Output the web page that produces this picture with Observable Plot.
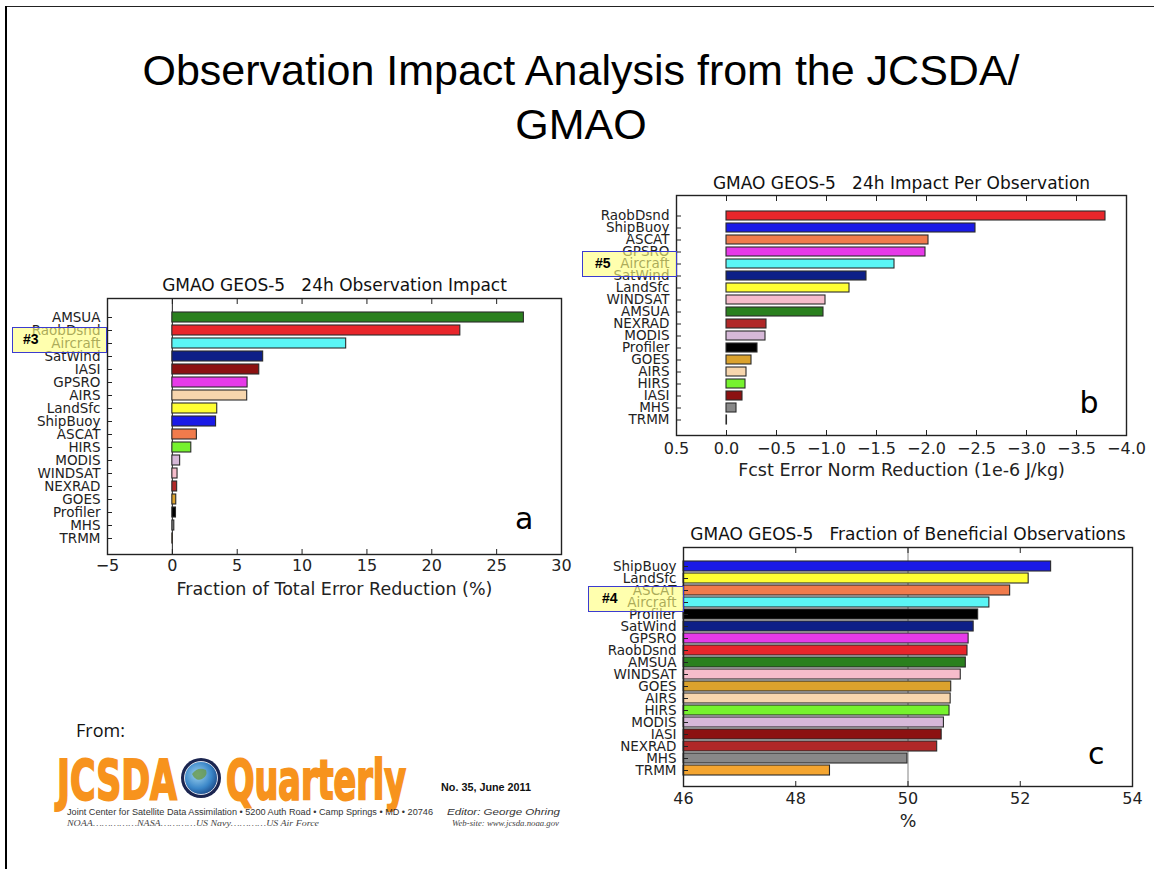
<!DOCTYPE html>
<html>
<head>
<meta charset="utf-8">
<script src="https://cdn.jsdelivr.net/npm/d3@7"></script>
<script src="https://cdn.jsdelivr.net/npm/@observablehq/plot@0.6"></script>
<style>
  body { margin: 0; background: #fff; }
  #slide { position: relative; width: 1154px; height: 869px; overflow: hidden; background: #fff; }
  .pane { position: absolute; }
  .pane svg { overflow: visible; }
  .hl { position: absolute; box-sizing: border-box; background: rgba(255,255,125,0.62);
        border: 1.5px solid #3b3bd0; font: bold 14px "Liberation Sans", Arial, sans-serif;
        color: #000; line-height: 23px; z-index: 5; }
</style>
</head>
<body>
<div id="slide">
  <div style="position:absolute;left:5px;top:6px;width:1149px;height:0;border-top:1.5px solid #222"></div>
  <div style="position:absolute;left:5px;top:6px;width:0;height:863px;border-left:2.5px solid #000"></div>
  <div style="position:absolute;left:0;top:43px;width:1162px;text-align:center;font:43px/54px 'Liberation Sans',Arial,sans-serif;color:#000">Observation Impact Analysis from the JCSDA/<br>GMAO</div>

  <div id="chartA" class="pane" style="left:0;top:270px"></div>
  <div id="chartB" class="pane" style="left:580px;top:170px"></div>
  <div id="chartC" class="pane" style="left:580px;top:520px"></div>

  <div class="hl" style="left:12px;top:327px;width:95px;height:26px;padding-left:10px">#3</div>
  <div class="hl" style="left:582px;top:251px;width:95px;height:26px;padding-left:12px">#5</div>
  <div class="hl" style="left:588px;top:586px;width:96px;height:26px;padding-left:13px">#4</div>

  <svg style="position:absolute;left:0;top:700px" width="600" height="140">
    <defs>
      <radialGradient id="glb" cx="0.4" cy="0.4" r="0.7">
        <stop offset="0" stop-color="#9fd4f0"/>
        <stop offset="0.6" stop-color="#3a86c8"/>
        <stop offset="1" stop-color="#163d7a"/>
      </radialGradient>
    </defs>
    <text x="76" y="37" font-family="Open Sans, sans-serif" font-size="18" fill="#111">From:</text>
    <text x="57" y="99" textLength="120" lengthAdjust="spacingAndGlyphs" font-family="Liberation Sans Narrow, DejaVu Sans Condensed, sans-serif" font-weight="bold" font-size="56" fill="#f7931d" stroke="#f7931d" stroke-width="2">JCSDA</text>
    <circle cx="201" cy="78" r="20" fill="#1b2550"/>
    <circle cx="201" cy="78" r="16.5" fill="url(#glb)" stroke="#d8dde8" stroke-width="1"/>
    <path d="M192 74 q6 -8 14 -4 q2 6 -4 9 q-6 3 -10 -5z" fill="#6a9a4a" opacity="0.8"/>
    <text x="226" y="99" textLength="180" lengthAdjust="spacingAndGlyphs" font-family="Liberation Sans Narrow, DejaVu Sans Condensed, sans-serif" font-weight="bold" font-size="56" fill="#f7931d" stroke="#f7931d" stroke-width="2">Quarterly</text>
    <text x="441" y="91" textLength="90" lengthAdjust="spacingAndGlyphs" font-family="Liberation Sans, Arial, sans-serif" font-weight="bold" font-size="10" fill="#111">No. 35, June 2011</text>
    <text x="67" y="115" textLength="366" lengthAdjust="spacingAndGlyphs" font-family="Liberation Sans, Arial, sans-serif" font-size="8.5" fill="#333">Joint Center for Satellite Data Assimilation • 5200 Auth Road • Camp Springs • MD • 20746</text>
    <text x="447" y="115" textLength="113" lengthAdjust="spacingAndGlyphs" font-family="Liberation Sans, Arial, sans-serif" font-style="italic" font-size="8.5" fill="#333">Editor: George Ohring</text>
    <text x="67" y="126" textLength="252" lengthAdjust="spacingAndGlyphs" font-family="Liberation Serif, serif" font-style="italic" font-size="8" fill="#444">NOAA……………NASA…………US Navy…………US Air Force</text>
    <text x="452" y="126" textLength="107" lengthAdjust="spacingAndGlyphs" font-family="Liberation Serif, serif" font-style="italic" font-size="8" fill="#444">Web-site: www.jcsda.noaa.gov</text>
  </svg>
</div>

<script>
// ---------- observing systems and their colours ----------
const sourceNames  = ["AMSUA","RaobDsnd","Aircraft","SatWind","IASI","GPSRO","AIRS","LandSfc","ShipBuoy",
                      "ASCAT","HIRS","MODIS","WINDSAT","NEXRAD","GOES","Profiler","MHS","TRMM"];
const sourceColors = ["#2a801e","#e8262b","#5af5f5","#0d1f87","#8c1111","#e63ae8","#f7d6ad","#ffff33","#1a1ae6",
                      "#f07b4c","#76f22e","#d6b8d8","#f6bccb","#b02828","#dba22d","#000000","#888888","#f4a530"];

// ---------- panel a: 24h observation impact (% of total error reduction) ----------
const namesA  = ["AMSUA","RaobDsnd","Aircraft","SatWind","IASI","GPSRO","AIRS","LandSfc","ShipBuoy",
                 "ASCAT","HIRS","MODIS","WINDSAT","NEXRAD","GOES","Profiler","MHS","TRMM"];
const valuesA = [27.1, 22.2, 13.4, 7.0, 6.7, 5.8, 5.77, 3.46, 3.37, 1.89, 1.46, 0.6, 0.4, 0.37, 0.3, 0.28, 0.15, 0.03];
const ticksA  = [-5, 0, 5, 10, 15, 20, 25, 30];

// ---------- panel b: 24h impact per observation (1e-6 J/kg) ----------
const namesB  = ["RaobDsnd","ShipBuoy","ASCAT","GPSRO","Aircraft","SatWind","LandSfc","WINDSAT","AMSUA",
                 "NEXRAD","MODIS","Profiler","GOES","AIRS","HIRS","IASI","MHS","TRMM"];
const valuesB = [-3.79, -2.49, -2.02, -1.99, -1.68, -1.40, -1.23, -0.99, -0.97,
                 -0.40, -0.39, -0.31, -0.25, -0.20, -0.19, -0.16, -0.10, -0.005];
const ticksB  = [0.5, 0, -0.5, -1, -1.5, -2, -2.5, -3, -3.5, -4];

// ---------- panel c: fraction of beneficial observations (%) ----------
const namesC  = ["ShipBuoy","LandSfc","ASCAT","Aircraft","Profiler","SatWind","GPSRO","RaobDsnd","AMSUA",
                 "WINDSAT","GOES","AIRS","HIRS","MODIS","IASI","NEXRAD","MHS","TRMM"];
const valuesC = [52.55, 52.15, 51.82, 51.45, 51.25, 51.17, 51.08, 51.06, 51.03,
                 50.94, 50.77, 50.76, 50.74, 50.64, 50.60, 50.52, 49.99, 48.61];
const ticksC  = [46, 48, 50, 52, 54];

const minus = (s) => s.replace("-", "\u2212");

function chart(o) {
  const data = o.names.map((name, i) => ({name, value: o.values[i]}));
  const n = o.names.length;
  const step = (o.last - o.first) / (n - 1);
  const r0 = o.first - step * (1 + o.pad) / 2;
  const r1 = o.last + step * (1 + o.pad) / 2;
  const marks = [];
  if (o.rule != null) marks.push(Plot.ruleX([o.rule], {stroke: o.ruleColor, strokeWidth: 1, strokeOpacity: o.ruleOpacity}));
  marks.push(
    Plot.barX(data, {y: "name", x1: () => o.base, x2: "value", fill: "name", stroke: "#2a2a2a", strokeWidth: 1.1}),
    Plot.frame({stroke: "#222", strokeWidth: 1.4}),
    Plot.axisX({anchor: "bottom", ticks: o.ticks, tickFormat: o.fmt, tickSize: -5, tickPadding: o.tickPad,
                fontSize: 16, label: null, stroke: "#222"}),
    Plot.axisX({anchor: "top", ticks: o.ticks, tickFormat: () => "", tickSize: -5, label: null}),
    Plot.axisY({anchor: "left", tickSize: -5, tickPadding: 12, fontSize: 13.5, label: null, fill: "#222"}),
    Plot.text([o.title], {frameAnchor: "top", dy: o.titleDy, lineAnchor: "middle", fontSize: 17, fill: "#111"}),
    Plot.text([o.label], {frameAnchor: "bottom", dy: o.labelDy, lineAnchor: "middle", fontSize: 17.5, fill: "#222"}),
    Plot.text([o.letter], {frameAnchor: "bottom-right", dx: o.letterDx, dy: o.letterDy, lineAnchor: "bottom",
                textAnchor: "end", fontSize: 30, fill: "#000"})
  );
  return Plot.plot({
    width: o.width, height: o.height,
    marginLeft: o.ml, marginRight: o.mr, marginTop: o.mt, marginBottom: o.mb,
    style: {fontFamily: "DejaVu Sans, sans-serif", fontSize: "15px", background: "transparent", color: "#222"},
    x: {domain: o.domain, ticks: o.ticks, tickFormat: o.fmt},
    y: {domain: o.names, range: [r0, r1], padding: o.pad},
    color: {domain: sourceNames, range: sourceColors},
    marks
  });
}

document.getElementById("chartA").append(chart({
  names: namesA, values: valuesA, base: 0, domain: [-5, 30], ticks: ticksA,
  fmt: (d) => minus(String(d)),
  width: 580, height: 340, ml: 107, mr: 19, mt: 28, mb: 56,
  first: 42.7, last: 273.3, pad: 0.22, tickPad: 10,
  rule: 0, ruleColor: "#222", ruleOpacity: 1,
  title: "GMAO GEOS-5\u00a0\u00a0\u00a024h Observation Impact", titleDy: -13,
  label: "Fraction of Total Error Reduction (%)", labelDy: 35,
  letter: "a", letterDx: -28, letterDy: -26
}));

document.getElementById("chartB").append(chart({
  names: namesB, values: valuesB, base: 0, domain: [0.5, -4], ticks: ticksB,
  fmt: (d) => minus(d.toFixed(1)),
  width: 574, height: 320, ml: 96, mr: 28, mt: 25, mb: 55,
  first: 40, last: 256, pad: 0.21, tickPad: 12,
  rule: null,
  title: "GMAO GEOS-5\u00a0\u00a0\u00a024h Impact Per Observation", titleDy: -12,
  label: "Fcst Error Norm Reduction (1e-6 J/kg)", labelDy: 35,
  letter: "b", letterDx: -28, letterDy: -23
}));

document.getElementById("chartC").append(chart({
  names: namesC, values: valuesC, base: 46, domain: [46, 54], ticks: ticksC,
  fmt: (d) => String(d),
  width: 574, height: 330, ml: 103, mr: 22, mt: 27, mb: 64,
  first: 40.7, last: 256, pad: 0.13, tickPad: 11,
  rule: 50, ruleColor: "#333", ruleOpacity: 0.6,
  title: "GMAO GEOS-5\u00a0\u00a0\u00a0Fraction of Beneficial Observations", titleDy: -13,
  label: "%", labelDy: 35,
  letter: "c", letterDx: -28, letterDy: -23
}));
</script>
</body>
</html>
